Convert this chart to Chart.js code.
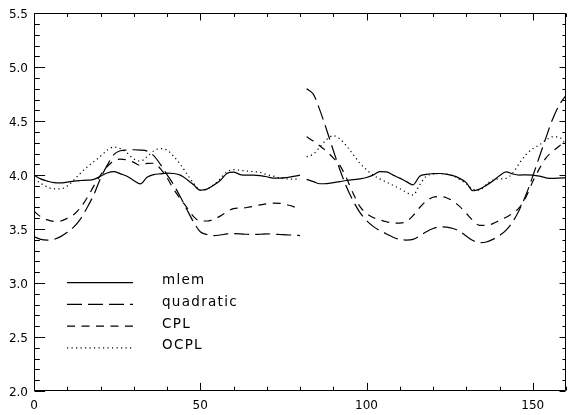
<!DOCTYPE html>
<html><head><meta charset="utf-8">
<script src="https://cdn.jsdelivr.net/npm/chart.js@4/dist/chart.umd.min.js"></script>
<style>html,body{margin:0;padding:0;background:#fff}#wrap{width:568px;height:415px}</style>
</head><body><div id="wrap"><canvas id="c" width="568" height="415"></canvas></div>
<script>
const seriesNames = ['mlem', 'quadratic', 'CPL', 'OCPL'];
const xFirst = [0,2,4,6,8,10,12,14,16,18,20,22,24,26,28,30,32,34,36,38,40,42,44,46,48,50,52,54,56,58,60,62,64,66,68,70,72,74,76,78,80];
const xSecond = [82,84,86,88,90,92,94,96,98,100,102,104,106,108,110,112,114,116,118,120,122,124,126,128,130,132,134,136,138,140,142,144,146,148,150,152,154,156,158,160];
const xGap = 81;

const mlemFirst = [4.00,3.965,3.945,3.93,3.928,3.935,3.945,3.95,3.953,3.96,3.99,4.02,4.033,4.012,3.99,3.95,3.918,3.98,4.005,4.012,4.018,4.015,4.00,3.96,3.91,3.86,3.87,3.905,3.95,4.015,4.028,4.005,4.00,4.00,3.995,3.985,3.972,3.972,3.978,3.988,4.00];
const mlemSecond = [3.96,3.94,3.92,3.922,3.93,3.94,3.95,3.958,3.965,3.978,4.00,4.032,4.03,4.00,3.972,3.94,3.91,3.99,4.007,4.013,4.015,4.01,3.995,3.97,3.93,3.855,3.87,3.905,3.945,3.995,4.03,4.01,4.00,4.003,4.00,3.99,3.975,3.97,3.973,3.975];
const quadFirst = [3.43,3.405,3.398,3.405,3.43,3.47,3.52,3.595,3.70,3.82,3.97,4.09,4.19,4.226,4.233,4.235,4.232,4.222,4.18,4.10,4.005,3.91,3.80,3.68,3.565,3.475,3.45,3.44,3.445,3.455,3.458,3.456,3.452,3.45,3.452,3.455,3.453,3.45,3.447,3.443,3.44];
const quadSecond = [4.80,4.75,4.60,4.42,4.23,4.05,3.89,3.76,3.655,3.58,3.525,3.485,3.455,3.425,3.405,3.398,3.405,3.435,3.475,3.505,3.52,3.518,3.505,3.48,3.435,3.395,3.375,3.38,3.405,3.44,3.49,3.57,3.68,3.82,3.99,4.17,4.35,4.52,4.65,4.74];
const cplFirst = [3.665,3.615,3.585,3.572,3.575,3.60,3.635,3.70,3.79,3.90,4.00,4.08,4.133,4.148,4.14,4.118,4.09,4.108,4.11,4.06,3.975,3.87,3.78,3.70,3.615,3.575,3.575,3.59,3.62,3.66,3.69,3.695,3.70,3.712,3.725,3.735,3.74,3.738,3.725,3.708,3.68];
const cplSecond = [4.355,4.315,4.27,4.22,4.16,4.09,3.97,3.83,3.71,3.645,3.608,3.585,3.568,3.556,3.555,3.57,3.625,3.70,3.76,3.795,3.802,3.79,3.76,3.71,3.645,3.58,3.535,3.535,3.55,3.58,3.61,3.645,3.70,3.80,3.94,4.06,4.16,4.22,4.27,4.32];
const ocplFirst = [3.965,3.925,3.89,3.872,3.872,3.90,3.955,4.02,4.075,4.125,4.175,4.23,4.26,4.245,4.205,4.15,4.13,4.17,4.225,4.245,4.232,4.175,4.10,4.01,3.925,3.86,3.87,3.91,3.965,4.03,4.05,4.045,4.038,4.032,4.025,4.005,3.99,3.975,3.965,3.963,3.963];
const ocplSecond = [4.17,4.195,4.26,4.33,4.365,4.335,4.27,4.19,4.11,4.05,4.0,3.965,3.935,3.905,3.875,3.84,3.815,3.91,3.99,4.01,4.015,4.008,3.995,3.96,3.92,3.87,3.86,3.915,3.955,3.965,3.97,4.02,4.11,4.19,4.245,4.28,4.325,4.355,4.35,4.28];

const xMajorTicks = [0, 50, 100, 150];
const yMajorTicks = [2.0, 2.5, 3.0, 3.5, 4.0, 4.5, 5.0, 5.5];

function build(a, b) {
  return xFirst.map((x, i) => ({x, y: a[i]}))
    .concat([{x: xGap, y: null}])
    .concat(xSecond.map((x, i) => ({x, y: b[i]})));
}
const styles = [[], [15, 6], [8, 6.5], [1.2, 3.3]];
const pairs = [[mlemFirst, mlemSecond], [quadFirst, quadSecond], [cplFirst, cplSecond], [ocplFirst, ocplSecond]];

const frameTicks = {
  id: 'frameTicks',
  afterDatasetsDraw(chart) {
    const {ctx, chartArea: a, scales: {x, y}} = chart;
    const L = Math.round(a.left) + 0.5, R = Math.round(a.right) - 0.5;
    const T = Math.round(a.top) + 0.5, B = Math.round(a.bottom) - 0.5;
    ctx.save();
    ctx.strokeStyle = '#000'; ctx.lineWidth = 1; ctx.setLineDash([]);
    ctx.beginPath();
    ctx.rect(L, T, R - L, B - T);
    for (let v = 0; v <= 160; v += 10) {
      const major = xMajorTicks.includes(v);
      const px = Math.round(x.getPixelForValue(v)) + 0.5;
      const lb = major ? 7.6 : 3.8;
      const lt = major ? 7 : 3.5;
      ctx.moveTo(px, B); ctx.lineTo(px, B - lb);
      ctx.moveTo(px, T); ctx.lineTo(px, T + lt);
    }
    for (let k = 20; k <= 55; k++) {
      const v = k / 10;
      const major = k % 5 === 0;
      const py = Math.round(y.getPixelForValue(v)) + 0.5;
      const ll = major ? 10.6 : 5.3;
      const lr = major ? 6 : 3;
      ctx.moveTo(L, py); ctx.lineTo(L + ll, py);
      ctx.moveTo(R, py); ctx.lineTo(R - lr, py);
    }
    ctx.stroke();
    ctx.font = '13.5px "DejaVu Sans"';
    ctx.fillStyle = '#000';
    ctx.textBaseline = 'alphabetic';
    try { ctx.letterSpacing = '1.3px'; } catch (e) {}
    chart.data.datasets.forEach((ds, i) => {
      const yy = 282.7 + i * 21.7;
      ctx.lineWidth = ds.borderWidth;
      ctx.setLineDash(ds.borderDash || []);
      ctx.beginPath();
      ctx.moveTo(67, yy); ctx.lineTo(133, yy);
      ctx.stroke();
      ctx.setLineDash([]);
      ctx.fillText(ds.label, 162, yy + 1.5);
    });
    ctx.restore();
  }
};

new Chart(document.getElementById('c'), {
  type: 'line',
  data: {
    datasets: seriesNames.map((name, i) => ({
      label: name,
      data: build(pairs[i][0], pairs[i][1]),
      borderColor: '#000',
      borderWidth: 1.2,
      borderDash: styles[i],
      pointRadius: 0,
      fill: false,
      spanGaps: false,
      cubicInterpolationMode: 'monotone'
    }))
  },
  options: {
    responsive: false,
    animation: false,
    devicePixelRatio: 1,
    layout: {padding: {top: 10, right: 2, left: 0, bottom: 0}},
    plugins: {legend: {display: false}, tooltip: {enabled: false}},
    scales: {
      x: {
        type: 'linear', min: 0, max: 160,
        grid: {display: false, drawTicks: false},
        border: {display: false},
        ticks: {
          stepSize: 50, includeBounds: false, autoSkip: false, maxRotation: 0,
          color: '#000', padding: 8,
          font: {family: 'DejaVu Sans', size: 12}
        },
        afterFit(s) { s.height = 24; }
      },
      y: {
        type: 'linear', min: 2, max: 5.5,
        grid: {display: false, drawTicks: false},
        border: {display: false},
        ticks: {
          stepSize: 0.5, includeBounds: false, autoSkip: false,
          color: '#000', padding: 6, labelOffset: 2,
          font: {family: 'DejaVu Sans', size: 12},
          callback: v => Number(v).toFixed(1)
        },
        afterFit(s) { s.width = 34; }
      }
    }
  },
  plugins: [frameTicks]
});
</script>
</body></html>
